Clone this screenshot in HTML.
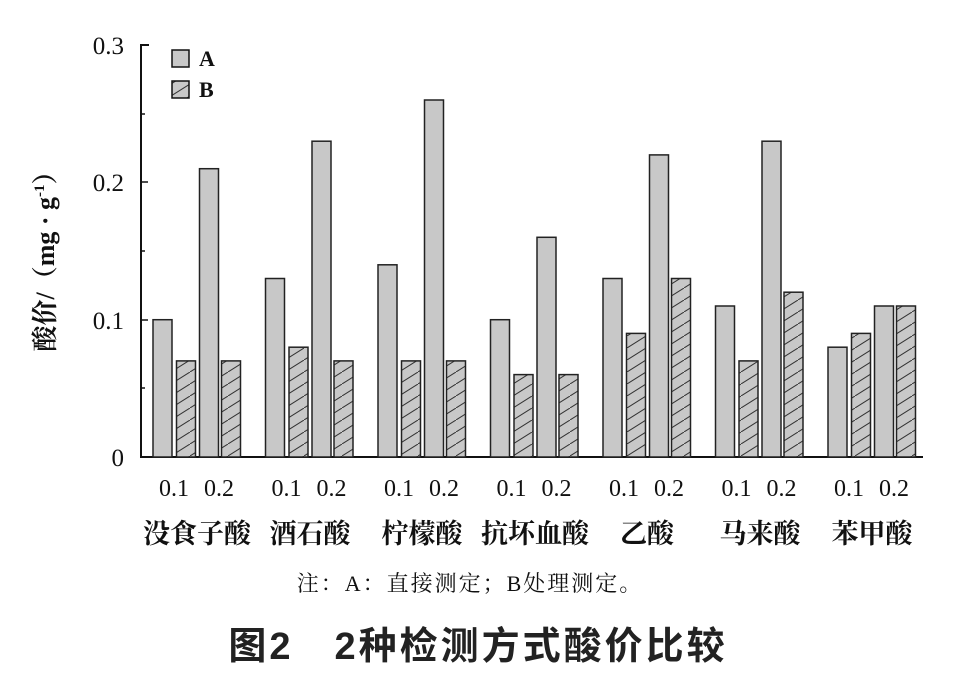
<!DOCTYPE html>
<html><head><meta charset="utf-8"><style>
html,body{margin:0;padding:0;background:#fff;}
svg text{font-family:"Liberation Serif","Noto Serif CJK SC",serif;fill:#111;}
</style></head><body>
<svg width="956" height="676" viewBox="0 0 956 676" xmlns="http://www.w3.org/2000/svg">
<defs>
<pattern id="h" patternUnits="userSpaceOnUse" width="19" height="12">
<rect width="19" height="12" fill="#c8c8c8"/>
<line x1="0" y1="12" x2="19" y2="0" stroke="#333" stroke-width="1"/>
</pattern>
</defs>
<g stroke="#111" stroke-width="2" fill="none">
<path d="M149 45 H141 V457 H923"/>
</g>
<g stroke="#111" stroke-width="1.5">
<line x1="141" y1="320" x2="148" y2="320"/>
<line x1="141" y1="182" x2="148" y2="182"/>
<line x1="141" y1="388" x2="145" y2="388"/>
<line x1="141" y1="251" x2="145" y2="251"/>
<line x1="141" y1="114" x2="145" y2="114"/>
</g>
<g font-size="25" text-anchor="end">
<text x="124" y="466">0</text>
<text x="124" y="329">0.1</text>
<text x="124" y="191">0.2</text>
<text x="124" y="54">0.3</text>
</g>
<text transform="translate(54,255) rotate(-90)" font-size="26" text-anchor="middle" font-weight="bold">酸价/（mg · g<tspan font-size="15" dy="-10">-1</tspan><tspan dy="10">）</tspan></text>
<rect x="172" y="50" width="17" height="17" fill="#c8c8c8" stroke="#111" stroke-width="1.5"/>
<text x="199" y="66" font-size="22" font-weight="bold">A</text>
<rect x="172" y="81" width="17" height="17" fill="url(#h)" stroke="#111" stroke-width="1.5"/>
<text x="199" y="97" font-size="22" font-weight="bold">B</text>
<g stroke="#222" stroke-width="1.5">
<g fill="#c8c8c8">
<rect x="153" y="319.7" width="19" height="137.3"/>
<rect x="199.5" y="168.7" width="19" height="288.3"/>
<rect x="265.5" y="278.5" width="19" height="178.5"/>
<rect x="312" y="141.2" width="19" height="315.8"/>
<rect x="378" y="264.8" width="19" height="192.2"/>
<rect x="424.5" y="100" width="19" height="357"/>
<rect x="490.5" y="319.7" width="19" height="137.3"/>
<rect x="537" y="237.3" width="19" height="219.7"/>
<rect x="603" y="278.5" width="19" height="178.5"/>
<rect x="649.5" y="154.9" width="19" height="302.1"/>
<rect x="715.5" y="306" width="19" height="151"/>
<rect x="762" y="141.2" width="19" height="315.8"/>
<rect x="828" y="347.2" width="19" height="109.8"/>
<rect x="874.5" y="306" width="19" height="151"/>
</g>
<g fill="url(#h)">
<rect x="176.5" y="360.9" width="19" height="96.1"/>
<rect x="221.5" y="360.9" width="19" height="96.1"/>
<rect x="289" y="347.2" width="19" height="109.8"/>
<rect x="334" y="360.9" width="19" height="96.1"/>
<rect x="401.5" y="360.9" width="19" height="96.1"/>
<rect x="446.5" y="360.9" width="19" height="96.1"/>
<rect x="514" y="374.6" width="19" height="82.4"/>
<rect x="559" y="374.6" width="19" height="82.4"/>
<rect x="626.5" y="333.4" width="19" height="123.6"/>
<rect x="671.5" y="278.5" width="19" height="178.5"/>
<rect x="739" y="360.9" width="19" height="96.1"/>
<rect x="784" y="292.2" width="19" height="164.8"/>
<rect x="851.5" y="333.4" width="19" height="123.6"/>
<rect x="896.5" y="306" width="19" height="151"/>
</g>
</g>
<g font-size="24" text-anchor="middle">
<text x="174" y="496">0.1</text><text x="219" y="496">0.2</text>
<text x="286.5" y="496">0.1</text><text x="331.5" y="496">0.2</text>
<text x="399" y="496">0.1</text><text x="444" y="496">0.2</text>
<text x="511.5" y="496">0.1</text><text x="556.5" y="496">0.2</text>
<text x="624" y="496">0.1</text><text x="669" y="496">0.2</text>
<text x="736.5" y="496">0.1</text><text x="781.5" y="496">0.2</text>
<text x="849" y="496">0.1</text><text x="894" y="496">0.2</text>
</g>
<g font-size="27" text-anchor="middle" font-weight="bold">
<text x="197" y="543">没食子酸</text>
<text x="310" y="543">酒石酸</text>
<text x="422" y="543">柠檬酸</text>
<text x="535" y="543">抗坏血酸</text>
<text x="647" y="543">乙酸</text>
<text x="760" y="543">马来酸</text>
<text x="872" y="543">苯甲酸</text>
</g>
<text x="470" y="591" font-size="22" letter-spacing="2" text-anchor="middle">注：A：直接测定；B处理测定。</text>
<text x="478" y="659" font-size="38" letter-spacing="3" text-anchor="middle" style="font-family:'Liberation Sans','Noto Sans CJK SC',sans-serif;font-weight:bold;fill:#222">图2　2种检测方式酸价比较</text>
</svg>
</body></html>
